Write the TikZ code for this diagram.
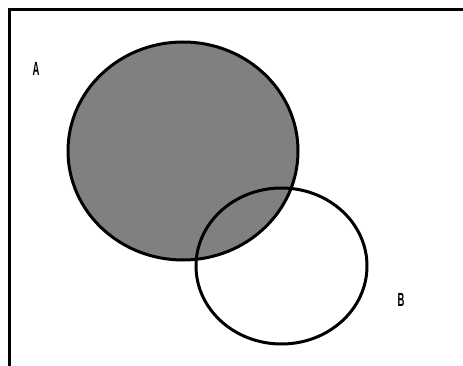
\documentclass[tikz,border=0pt]{standalone}
\usepackage{fontspec}
\setmainfont{Liberation Sans}
\begin{document}
\begin{tikzpicture}[x=1pt,y=-1pt,
  outline/.style={line width=3pt,black},
  lbl/.style={font=\bfseries\fontsize{19}{19}\selectfont,xscale=0.5,inner sep=0pt}]
\useasboundingbox (0,0) rectangle (463,366);
\begin{scope}
\clip (0,0) rectangle (463,366);
\draw[outline] (9.5,10) rectangle (480,380);
\end{scope}
\fill[black!50] (183,151) ellipse [x radius=115, y radius=109];
\draw[outline] (183,151) ellipse [x radius=115, y radius=109];
\draw[outline] (281.5,266) ellipse [x radius=85.5, y radius=78];
\node[lbl] (A) at (36,69) {A};
\node[lbl] (B) at (401,300) {B};
\end{tikzpicture}
\end{document}
